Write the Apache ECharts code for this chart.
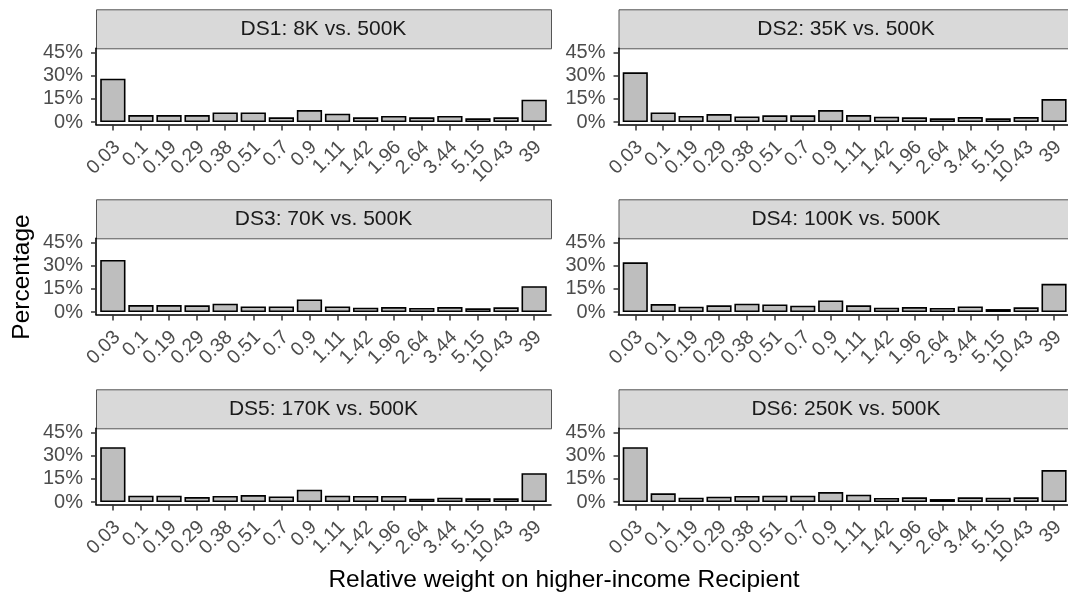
<!DOCTYPE html>
<html>
<head>
<meta charset="utf-8">
<title>Relative weight histograms</title>
<script src="https://cdn.jsdelivr.net/npm/echarts@6/dist/echarts.min.js"></script>
<style>
  html, body { margin: 0; padding: 0; background: #ffffff; }
  #chart { width: 1068px; height: 597px; }
</style>
</head>
<body>
<div id="chart"></div>
<script>
// Bins of the relative weight on the higher-income recipient
const categories = ['0.03', '0.1', '0.19', '0.29', '0.38', '0.51', '0.7', '0.9',
  '1.11', '1.42', '1.96', '2.64', '3.44', '5.15', '10.43', '39'];

// Share of observations (%) in each bin, one array per data set
const ds1 = [28.0, 4.5, 4.5, 4.5, 6.2, 6.2, 3.0, 7.7, 5.4, 3.0, 3.9, 3.0, 3.9, 2.4, 3.0, 14.4];
const ds2 = [32.1, 6.2, 3.9, 5.1, 3.6, 4.3, 4.3, 7.7, 4.5, 3.4, 3.0, 2.4, 3.2, 2.4, 3.2, 14.8];
const ds3 = [33.6, 4.5, 4.5, 4.3, 5.4, 3.6, 3.6, 8.1, 3.6, 2.8, 3.2, 2.6, 3.2, 2.4, 3.0, 16.7];
const ds4 = [32.1, 5.1, 3.4, 4.3, 5.4, 4.9, 4.1, 7.5, 4.3, 2.8, 3.2, 2.6, 3.6, 1.9, 3.0, 18.2];
const ds5 = [35.4, 4.1, 4.1, 3.2, 3.9, 4.5, 3.6, 7.9, 4.1, 3.9, 3.9, 2.1, 2.8, 2.4, 2.4, 18.6];
const ds6 = [35.4, 5.6, 2.8, 3.4, 3.9, 4.1, 4.1, 6.4, 4.7, 2.6, 3.0, 1.9, 3.0, 2.8, 3.0, 20.6];

const panelTitles = ['DS1: 8K vs. 500K', 'DS2: 35K vs. 500K', 'DS3: 70K vs. 500K',
  'DS4: 100K vs. 500K', 'DS5: 170K vs. 500K', 'DS6: 250K vs. 500K'];

const yTicks = [0, 15, 30, 45];
const xTitle = 'Relative weight on higher-income Recipient';
const yTitle = 'Percentage';

const panelData = [ds1, ds2, ds3, ds4, ds5, ds6];

// ---- facet layout (pixels) ----
const FONT = '"Liberation Sans", Arial, sans-serif';
const colLeft = [96, 618.5];
const panelW = 455;
const rowStripTop = [9.3, 199.3, 389.3];
const stripH = 39;
const frameH = 76.2;
// discrete x scale padding: 0.6 units each side around 16 bars
const inset = 0.1 * panelW / 16.2;
// y scale: 0% at 122px and 45% at 52.3px inside the first row
const pxPerPct = (122 - 52.3) / 45;
const yMin = -(48.3 + frameH - 122) / pxPerPct;
const yMax = 45 + (52.3 - 48.3) / pxPerPct;

const grids = [], xAxes = [], yAxes = [], series = [], graphics = [];

panelData.forEach((values, i) => {
  const col = i % 2;
  const row = Math.floor(i / 2);
  const left = colLeft[col];
  const stripTop = rowStripTop[row];
  const top = stripTop + stripH;

  // frame grid: axis lines, y ticks and labels
  const gFrame = grids.length;
  grids.push({ left: left, top: top, width: panelW, height: frameH, containLabel: false });
  xAxes.push({
    gridIndex: gFrame, type: 'value', min: 0, max: 1,
    axisLine: { show: true, onZero: false, lineStyle: { color: '#000000', width: 1.6 } },
    axisTick: { show: false }, axisLabel: { show: false }, splitLine: { show: false }
  });
  yAxes.push({
    gridIndex: gFrame, type: 'value', min: yMin, max: yMax,
    axisLine: { show: true, onZero: false, lineStyle: { color: '#000000', width: 1.6 } },
    axisTick: { show: true, length: 5, customValues: yTicks, lineStyle: { color: '#333333', width: 1.5 } },
    axisLabel: {
      show: true, customValues: yTicks, margin: 13,
      formatter: v => v + '%', color: '#4D4D4D', fontSize: 20, fontFamily: FONT
    },
    splitLine: { show: false }
  });

  // bar grid: bins on a category axis
  const gBar = grids.length;
  grids.push({ left: left + inset, top: top, width: panelW - 2 * inset, height: frameH, containLabel: false });
  xAxes.push({
    gridIndex: gBar, type: 'category', data: categories,
    axisLine: { show: false, onZero: false },
    axisTick: { show: true, alignWithLabel: true, length: 6, lineStyle: { color: '#333333', width: 1.5 } },
    axisLabel: {
      show: true, interval: 0, rotate: 45, margin: 10, verticalAlign: 'top',
      padding: [0, 4, 0, 0],
      color: '#4D4D4D', fontSize: 19.5, fontFamily: FONT
    },
    splitLine: { show: false }
  });
  yAxes.push({
    gridIndex: gBar, type: 'value', min: yMin, max: yMax, show: false,
    splitLine: { show: false }
  });
  series.push({
    type: 'bar', xAxisIndex: xAxes.length - 1, yAxisIndex: yAxes.length - 1,
    data: values, barWidth: '90%', silent: true,
    itemStyle: { color: '#BEBEBE', borderColor: '#000000', borderWidth: 1.6 }
  });

  // facet strip
  graphics.push({
    type: 'rect', left: left, top: stripTop, silent: true,
    shape: { width: panelW, height: stripH },
    style: { fill: '#D9D9D9', stroke: '#555555', lineWidth: 1 }
  });
  graphics.push({
    type: 'text', x: left + panelW / 2, y: stripTop + stripH / 2, silent: true,
    style: {
      text: panelTitles[i], fill: '#1A1A1A', font: '21px ' + FONT,
      textAlign: 'center', textVerticalAlign: 'middle'
    }
  });
});

// shared axis titles
graphics.push({
  type: 'text', x: 564, y: 580, silent: true,
  style: { text: xTitle, fill: '#000000', font: '24.5px ' + FONT, textAlign: 'center', textVerticalAlign: 'middle' }
});
graphics.push({
  type: 'text', x: 22, y: 277, rotation: Math.PI / 2, silent: true,
  style: { text: yTitle, fill: '#000000', font: '24.5px ' + FONT, textAlign: 'center', textVerticalAlign: 'middle' }
});

const chart = echarts.init(document.getElementById('chart'), null, { renderer: 'canvas' });
chart.setOption({
  animation: false,
  backgroundColor: '#ffffff',
  grid: grids,
  xAxis: xAxes,
  yAxis: yAxes,
  series: series,
  graphic: { elements: graphics }
});
</script>
</body>
</html>
